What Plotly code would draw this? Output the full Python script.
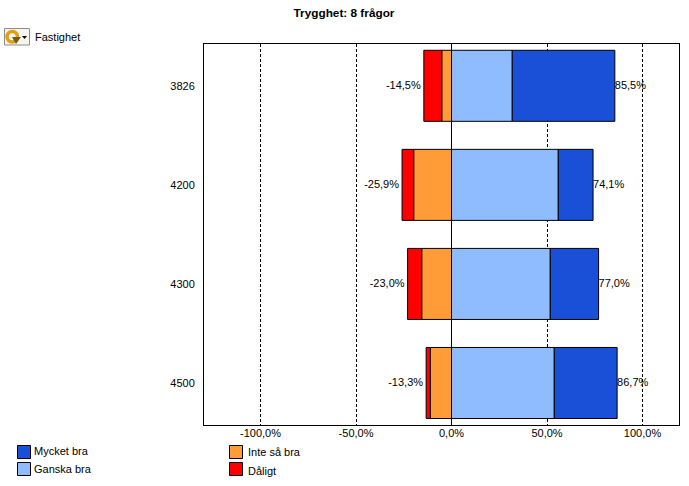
import plotly.graph_objects as go

categories = ["3826", "4200", "4300", "4500"]
mycket_bra = [53.7, 18.2, 25.3, 32.9]
ganska_bra = [31.8, 55.9, 51.7, 53.8]
inte_sa_bra = [-5.1, -19.8, -15.6, -11.1]
daligt = [-9.4, -6.1, -7.4, -2.2]
neg_totals = [-14.5, -25.9, -23.0, -13.3]
pos_totals = [85.5, 74.1, 77.0, 86.7]
tick_vals = [-100, -50, 0, 50, 100]
tick_text = ["-100,0%", "-50,0%", "0,0%", "50,0%", "100,0%"]

W, H = 689, 486
L, R, T, B = 204, 679, 44, 425
FONT = "Liberation Sans, Arial, sans-serif"


def fmt(v):
    return f"{v:.1f}".replace(".", ",") + "%"


def px(x):
    return (x - L) / (R - L)


def py(y):
    return (B - y) / (B - T)


fig = go.Figure()
for name, vals, col in [
    ("Ganska bra", ganska_bra, "#8fbcff"),
    ("Mycket bra", mycket_bra, "#1a50d8"),
    ("Inte så bra", inte_sa_bra, "#ff9c38"),
    ("Dåligt", daligt, "#ff0000"),
]:
    fig.add_trace(go.Bar(
        y=categories, x=vals, name=name, orientation="h", width=0.717,
        marker=dict(color=col, line=dict(color="black", width=1)),
        showlegend=False, hoverinfo="x+y+name",
    ))

fig.add_trace(go.Scatter(
    y=categories, x=neg_totals, mode="text",
    text=[fmt(v) + "\u00a0" for v in neg_totals],
    textposition="middle left", textfont=dict(family=FONT, size=11, color="black"),
    showlegend=False, hoverinfo="skip",
))
fig.add_trace(go.Scatter(
    y=categories, x=pos_totals, mode="text", text=[fmt(v) for v in pos_totals],
    textposition="middle right", textfont=dict(family=FONT, size=11, color="black"),
    showlegend=False, hoverinfo="skip",
))

shapes = []
annotations = []


def box(x0, y0, x1, y1, fill, line="black", width=1):
    shapes.append(dict(type="rect", xref="paper", yref="paper",
                       x0=px(x0), x1=px(x1), y0=py(y0), y1=py(y1),
                       fillcolor=fill, line=dict(color=line, width=width)))


def label(x, y, text):
    annotations.append(dict(xref="paper", yref="paper", x=px(x), y=py(y), text=text,
                            showarrow=False, xanchor="left", yanchor="middle",
                            font=dict(family=FONT, size=11, color="black")))


for x0, y0, col, text, tx, ty in [
    (17.5, 445.5, "#1a50d8", "Mycket bra", 32, 450.5),
    (17.5, 462.5, "#8fbcff", "Ganska bra", 32, 468.5),
    (229.5, 445.5, "#ff9c38", "Inte så bra", 246, 451.5),
    (229.5, 462.5, "#ff0000", "Dåligt", 246, 471),
]:
    box(x0, y0, x0 + 13, y0 + 13, col)
    label(tx, ty, text)

label(33, 36.5, "Fastighet")

# small refresh button beside "Fastighet"
box(4.5, 28.5, 29.5, 45, "#f6f5ef", "#8c8c8c", 1)
shapes.append(dict(type="circle", xref="paper", yref="paper",
                   x0=px(7), x1=px(17.5), y0=py(31.5), y1=py(42),
                   fillcolor="rgba(0,0,0,0)", line=dict(color="#e0a010", width=3.5)))
shapes.append(dict(type="path", xref="paper", yref="paper",
                   path=f"M {px(12)} {py(37)} L {px(21)} {py(37)} L {px(16)} {py(44)} Z",
                   fillcolor="#6e5f1c", line=dict(width=0)))
shapes.append(dict(type="path", xref="paper", yref="paper",
                   path=f"M {px(22)} {py(36)} L {px(27)} {py(36)} L {px(24.5)} {py(39)} Z",
                   fillcolor="black", line=dict(width=0)))

fig.update_layout(
    width=W, height=H, autosize=False,
    margin=dict(l=L, r=W - R, t=T, b=H - B, pad=0),
    paper_bgcolor="white", plot_bgcolor="white",
    barmode="relative",
    font=dict(family=FONT, size=11, color="black"),
    title=dict(text="<b>Trygghet: 8 frågor</b>", x=344 / W, xanchor="center",
               y=1 - 13 / H, yanchor="middle",
               font=dict(family=FONT, size=11.8, color="black")),
    shapes=shapes, annotations=annotations,
    xaxis=dict(range=[-129.6, 119.1], tickvals=tick_vals, ticktext=tick_text,
               showgrid=True, gridcolor="black", griddash="3px,2px", gridwidth=1,
               zeroline=True, zerolinecolor="black", zerolinewidth=1,
               showline=True, linecolor="black", linewidth=1, mirror=True,
               ticks="", ticklabelstandoff=-2, tickfont=dict(family=FONT, size=11)),
    yaxis=dict(categoryorder="array", categoryarray=categories,
               range=[3.424, -0.422], showgrid=False, zeroline=False,
               showline=True, linecolor="black", linewidth=1, mirror=True,
               ticks="outside", ticklen=6, tickcolor="rgba(0,0,0,0)",
               tickfont=dict(family=FONT, size=11)),
)

fig.write_html("out.html", config={"displayModeBar": False},
               post_script="document.body.style.margin='0';")
